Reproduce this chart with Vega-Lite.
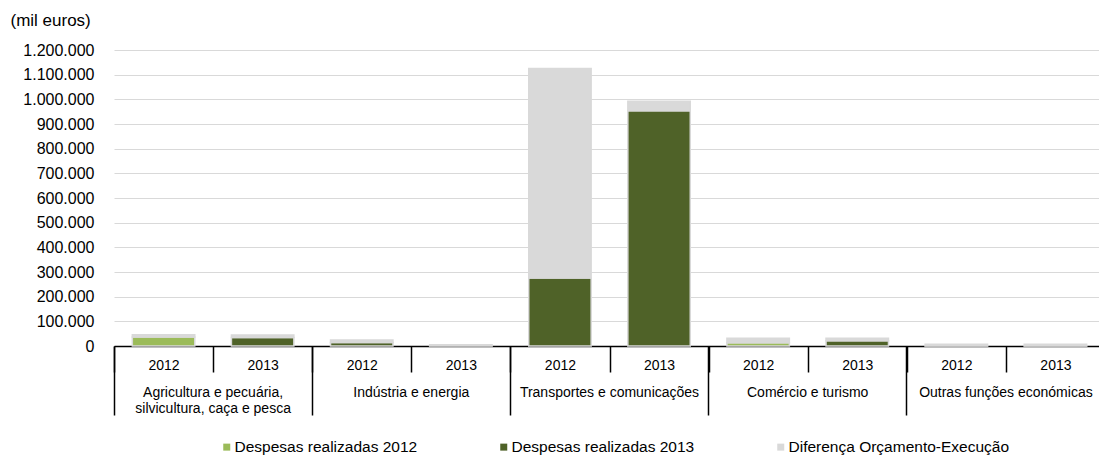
{
  "$schema": "https://vega.github.io/schema/vega-lite/v6.json",
  "width": 985,
  "height": 296,
  "autosize": {"type": "none"},
  "padding": {"left": 114, "top": 50, "right": 0, "bottom": 110},
  "config": {
    "font": "Liberation Sans",
    "view": {"stroke": null},
    "locale": {"number": {"decimal": ",", "thousands": ".", "grouping": [3], "currency": ["", " €"]}}
  },
  "data": {
    "values": [
      {"slot": "Agricultura e pecuária,~silvicultura, caça e pesca|2012", "serie": "Despesas realizadas 2012", "valor": 36000},
      {"slot": "Agricultura e pecuária,~silvicultura, caça e pesca|2012", "serie": "Diferença Orçamento-Execução", "valor": 10000},
      {"slot": "Agricultura e pecuária,~silvicultura, caça e pesca|2013", "serie": "Despesas realizadas 2013", "valor": 34000},
      {"slot": "Agricultura e pecuária,~silvicultura, caça e pesca|2013", "serie": "Diferença Orçamento-Execução", "valor": 11000},
      {"slot": "Indústria e energia|2012", "serie": "Despesas realizadas 2013", "valor": 14000},
      {"slot": "Indústria e energia|2012", "serie": "Diferença Orçamento-Execução", "valor": 10000},
      {"slot": "Indústria e energia|2013", "serie": "Despesas realizadas 2013", "valor": 2000},
      {"slot": "Indústria e energia|2013", "serie": "Diferença Orçamento-Execução", "valor": 3000},
      {"slot": "Transportes e comunicações|2012", "serie": "Despesas realizadas 2013", "valor": 276000},
      {"slot": "Transportes e comunicações|2012", "serie": "Diferença Orçamento-Execução", "valor": 849000},
      {"slot": "Transportes e comunicações|2013", "serie": "Despesas realizadas 2013", "valor": 954000},
      {"slot": "Transportes e comunicações|2013", "serie": "Diferença Orçamento-Execução", "valor": 38000},
      {"slot": "Comércio e turismo|2012", "serie": "Despesas realizadas 2012", "valor": 13500},
      {"slot": "Comércio e turismo|2012", "serie": "Diferença Orçamento-Execução", "valor": 17500},
      {"slot": "Comércio e turismo|2013", "serie": "Despesas realizadas 2013", "valor": 21500},
      {"slot": "Comércio e turismo|2013", "serie": "Diferença Orçamento-Execução", "valor": 9500},
      {"slot": "Outras funções económicas|2012", "serie": "Despesas realizadas 2012", "valor": 1500},
      {"slot": "Outras funções económicas|2012", "serie": "Diferença Orçamento-Execução", "valor": 5500},
      {"slot": "Outras funções económicas|2013", "serie": "Despesas realizadas 2013", "valor": 1500},
      {"slot": "Outras funções económicas|2013", "serie": "Diferença Orçamento-Execução", "valor": 5500}
    ]
  },
  "layer": [
    {
      "mark": {"type": "bar", "width": {"band": 0.63}, "stroke": "#D9D9D9", "strokeWidth": 1.5},
      "encoding": {
        "x": {
          "field": "slot", "type": "nominal", "sort": null,
          "scale": {"paddingInner": 0, "paddingOuter": 0, "range": [0, 991]},
          "axis": {
            "title": null, "labelAngle": 0, "tickBand": "extent", "orient": "bottom",
            "labelExpr": "split(datum.value, '|')[1]",
            "tickSize": 26, "tickColor": "#000000", "tickWidth": 1.5,
            "domainColor": "#000000", "domainWidth": 1.5,
            "labelFontSize": 14, "labelColor": "#000000", "labelPadding": -14
          }
        },
        "y": {
          "field": "valor", "type": "quantitative", "stack": "zero",
          "scale": {"domain": [0, 1200000], "nice": false},
          "axis": {
            "values": [0, 100000, 200000, 300000, 400000, 500000, 600000, 700000, 800000, 900000, 1000000, 1100000, 1200000],
            "format": ",d", "domain": false, "ticks": false,
            "gridColor": "#D9D9D9", "gridWidth": 1,
            "labelFontSize": 16, "labelColor": "#000000", "labelPadding": 20,
            "title": "(mil euros)", "titleAngle": 0, "titleAlign": "left", "titleBaseline": "middle",
            "titleX": -104, "titleY": -30, "titleFontSize": 17, "titleFontWeight": "normal", "titleColor": "#000000"
          }
        },
        "order": {"field": "serie", "type": "nominal", "sort": "ascending"},
        "color": {
          "field": "serie", "type": "nominal",
          "scale": {
            "domain": ["Despesas realizadas 2012", "Despesas realizadas 2013", "Diferença Orçamento-Execução"],
            "range": ["#9BBB59", "#4F6228", "#D9D9D9"]
          },
          "legend": {
            "title": null, "orient": "none", "direction": "horizontal", "columns": 3,
            "legendX": 105, "legendY": 389,
            "symbolType": "square", "symbolSize": 49, "symbolStrokeWidth": 0,
            "labelFontSize": 15.5, "labelColor": "#000000", "labelOffset": 0, "labelLimit": 0,
            "columnPadding": 78
          }
        }
      }
    },
    {
      "mark": {"type": "bar", "opacity": 0},
      "encoding": {
        "x": {
          "field": "slot", "type": "nominal", "sort": null,
          "axis": {
            "title": null, "labelAngle": 0, "bandPosition": 0, "orient": "bottom", "offset": 0,
            "values": [
              "Agricultura e pecuária,~silvicultura, caça e pesca|2012",
              "Indústria e energia|2012",
              "Transportes e comunicações|2012",
              "Comércio e turismo|2012",
              "Outras funções económicas|2012"
            ],
            "labelExpr": "split(split(datum.value, '|')[0], '~')",
            "tickSize": 69, "tickColor": "#000000", "tickWidth": 1.5,
            "domain": false, "labelAlign": "center", "labelOffset": 49.55,
            "labelFontSize": 14, "labelColor": "#000000", "labelPadding": -30, "labelLineHeight": 16,
            "labelBound": false, "labelOverlap": false
          }
        }
      }
    }
  ],
  "resolve": {"axis": {"x": "independent"}}
}
